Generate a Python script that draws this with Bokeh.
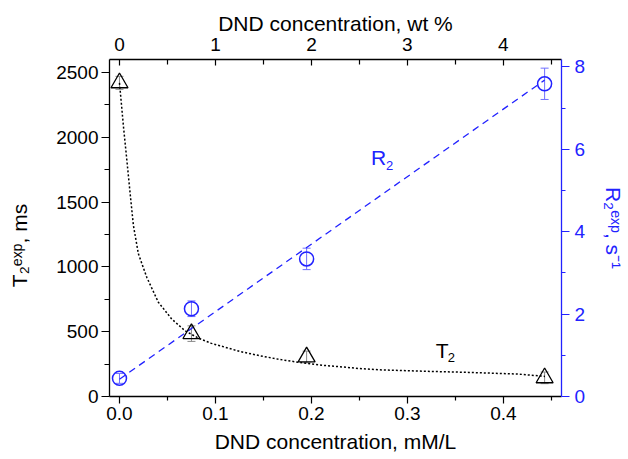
import math
from bokeh.plotting import figure
from bokeh.models import (Range1d, LinearAxis, FixedTicker, PrintfTickFormatter,
                          Label, Whisker, ColumnDataSource, TeeHead)
from bokeh.embed import file_html
from bokeh.resources import INLINE

# ---------------- data ----------------
conc_mm = [0.0, 0.075, 0.195, 0.443]          # DND concentration, mM/L
t2_ms = [2420, 485, 305, 144]                 # T2 exp, ms
t2_err = [50, 60, 45, 45]
r2_s = [0.44, 2.13, 3.34, 7.59]               # R2 exp, s^-1
r2_err = [0.12, 0.19, 0.26, 0.38]

r2_fit_x = [0.0, 0.443]
r2_fit_y = [0.42, 7.68]

t2_fit_x = [0.0, 0.0042, 0.0077, 0.0111, 0.0145, 0.0197, 0.0284, 0.0405, 0.0544,
            0.0682, 0.082, 0.0958, 0.1045, 0.1252, 0.146, 0.1667, 0.1874, 0.2082,
            0.229, 0.2497, 0.2705, 0.3119, 0.3638, 0.4157, 0.4434]
t2_fit_y = [2420, 2079, 1822, 1567, 1320, 1101, 920, 727, 598,
            508, 451, 410, 392, 348, 315, 286, 263, 243,
            230, 216, 206, 196, 186, 173, 155]

x_ticks = [0.0, 0.1, 0.2, 0.3, 0.4]
x_minor = [0.05, 0.15, 0.25, 0.35, 0.45]
y_ticks = [0, 500, 1000, 1500, 2000, 2500]
y_minor = [250, 750, 1250, 1750, 2250]
r_ticks = [0, 2, 4, 6, 8]
r_minor = [1, 3, 5, 7]
wt_ticks = [0, 1, 2, 3, 4]
wt_minor = [0.5, 1.5, 2.5, 3.5, 4.5]

x_title = "DND concentration, mM/L"
top_title = "DND concentration, wt %"
left_title = "T\u2082\u1d49\u02e3\u1d56, ms"
right_title = "R\u2082\u1d49\u02e3\u1d56, s\u207b\u00b9"

FONT = "Liberation Sans"
BLUE = "#2222ff"
BLUE_ERR = "#6f6fff"
GRAY = "#8a8a8a"

p = figure(width=628, height=459,
           min_border_left=109, min_border_right=65,
           min_border_top=59, min_border_bottom=63,
           x_range=Range1d(-0.0104, 0.4606), y_range=Range1d(0, 2600),
           output_backend="svg", toolbar_location=None)
p.extra_y_ranges = {"r2": Range1d(0, 8.18)}
p.extra_x_ranges = {"wt": Range1d(-0.104, 4.606)}
p.grid.visible = False
p.outline_line_color = None
p.background_fill_color = "white"
p.border_fill_color = "white"


def style_axis(ax, color="black"):
    ax.axis_line_color = color
    ax.axis_line_width = 1.3
    ax.major_tick_line_color = color
    ax.minor_tick_line_color = color
    ax.major_tick_line_width = 1.2
    ax.minor_tick_line_width = 1.2
    ax.major_label_text_color = color
    ax.major_label_text_font = FONT
    ax.major_label_text_font_size = "19px"
    ax.axis_label_text_color = color
    ax.axis_label_text_font = FONT
    ax.axis_label_text_font_size = "21px"
    ax.axis_label_text_font_style = "normal"


# bottom axis
xa = p.xaxis[0]
style_axis(xa)
xa.ticker = FixedTicker(ticks=x_ticks, minor_ticks=x_minor)
xa.formatter = PrintfTickFormatter(format="%.1f")
xa.major_tick_out = 7
xa.major_tick_in = 0
xa.minor_tick_out = 4
xa.minor_tick_in = 0
xa.major_label_standoff = 3
xa.axis_label = x_title
xa.axis_label_standoff = 7

# left axis
ya = p.yaxis[0]
style_axis(ya)
ya.ticker = FixedTicker(ticks=y_ticks, minor_ticks=y_minor)
ya.major_tick_out = 8
ya.major_tick_in = 0
ya.minor_tick_out = 5
ya.minor_tick_in = 0
ya.major_label_standoff = 3
ya.axis_label = left_title + "\u00a0" * 6
ya.axis_label_standoff = 22

# right axis (R2)
ra = LinearAxis(y_range_name="r2")
style_axis(ra, BLUE)
ra.ticker = FixedTicker(ticks=r_ticks, minor_ticks=r_minor)
ra.major_tick_out = 8
ra.major_tick_in = 0
ra.minor_tick_out = 4
ra.minor_tick_in = 0
ra.major_label_standoff = 5
ra.axis_label = right_title
ra.axis_label_standoff = 14
p.add_layout(ra, "right")

# top axis (wt %)
ta = LinearAxis(x_range_name="wt")
style_axis(ta)
ta.ticker = FixedTicker(ticks=wt_ticks, minor_ticks=wt_minor)
ta.major_tick_out = 0
ta.major_tick_in = 6
ta.minor_tick_out = 0
ta.minor_tick_in = 5
ta.major_label_standoff = 9
ta.axis_label = top_title
ta.axis_label_standoff = 0
p.add_layout(ta, "above")

# ---------------- glyphs ----------------
p.line(t2_fit_x, t2_fit_y, line_color="black", line_width=1.5, line_dash="2 2")
p.line(r2_fit_x, r2_fit_y, y_range_name="r2", line_color=BLUE, line_width=1.3,
       line_dash="7 5")

t2_src = ColumnDataSource(dict(x=conc_mm, y=t2_ms,
                               lo=[a - b for a, b in zip(t2_ms, t2_err)],
                               hi=[a + b for a, b in zip(t2_ms, t2_err)]))
r2_src = ColumnDataSource(dict(x=conc_mm, y=r2_s,
                               lo=[a - b for a, b in zip(r2_s, r2_err)],
                               hi=[a + b for a, b in zip(r2_s, r2_err)]))

p.add_layout(Whisker(source=t2_src, base="x", lower="lo", upper="hi",
                     line_color=GRAY, line_width=1,
                     upper_head=TeeHead(size=8, line_color=GRAY, line_width=1),
                     lower_head=TeeHead(size=8, line_color=GRAY, line_width=1)))
p.add_layout(Whisker(source=r2_src, base="x", lower="lo", upper="hi",
                     y_range_name="r2", line_color=BLUE_ERR, line_width=1,
                     upper_head=TeeHead(size=8, line_color=BLUE_ERR, line_width=1),
                     lower_head=TeeHead(size=8, line_color=BLUE_ERR, line_width=1)))

p.scatter("x", "y", source=t2_src, marker="triangle", size=17,
          fill_color=None, line_color="black", line_width=1.3)
p.scatter("x", "y", source=r2_src, marker="circle", size=14, y_range_name="r2",
          fill_color=None, line_color=BLUE, line_width=1.5)

# ---------------- in-plot labels ----------------
def dlabel(x, y, text, size, color):
    p.add_layout(Label(x=x, y=y, text=text, text_font=FONT, text_font_size=size,
                       text_color=color, text_align="left",
                       text_baseline="alphabetic"))

dlabel(0.2621, 1845, "R", "21px", BLUE)
dlabel(0.2777, 1783, "2", "13px", BLUE)
dlabel(0.3296, 353, "T", "21px", "black")
dlabel(0.3420, 299, "2", "13px", "black")

open("out.html", "w").write(file_html(p, INLINE))
